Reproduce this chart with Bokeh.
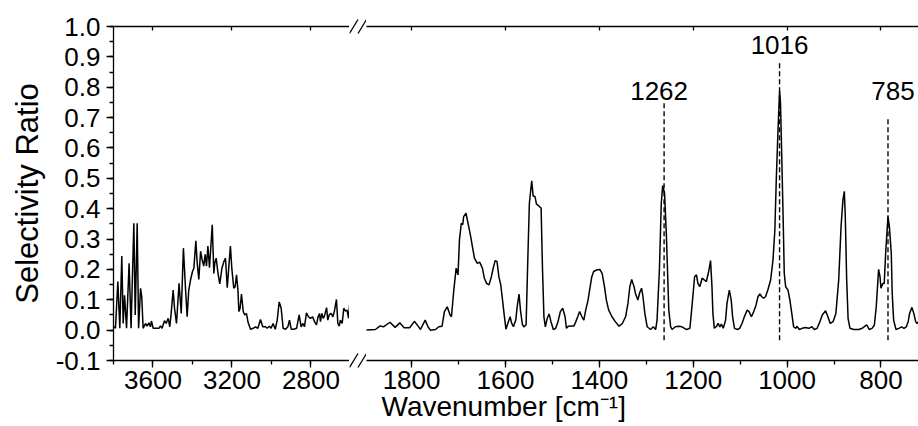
from bokeh.plotting import figure
from bokeh.layouts import row, column
from bokeh.models import (Range1d, LinearAxis, SingleIntervalTicker, NumeralTickFormatter,
                          CustomJSTickFormatter, LabelSet, Title, ColumnDataSource)
from bokeh.core.properties import value
from bokeh.embed import file_html
from bokeh.resources import INLINE

FONT = "Liberation Sans"

# ---------------- data ----------------
# high-wavenumber segment
wn_left = [3798, 3790, 3778, 3768, 3758, 3751, 3744, 3734, 3721, 3711, 3697, 3690, 3680, 3673,
           3663, 3657, 3650, 3638, 3630, 3621, 3613, 3608, 3599, 3587, 3570, 3562, 3554, 3542,
           3533, 3523, 3515, 3508, 3498, 3491, 3481, 3468, 3457, 3446, 3435, 3427, 3419, 3410,
           3400, 3393, 3383, 3376, 3368, 3359, 3351, 3343, 3336, 3329, 3322, 3314, 3307, 3300,
           3292, 3287, 3280, 3272, 3262, 3251, 3241, 3233, 3224, 3216, 3208, 3201, 3191, 3184,
           3177, 3170, 3165, 3159, 3152, 3143, 3135, 3127, 3118, 3106, 3093, 3081, 3069, 3056,
           3044, 3030, 3022, 3010, 3002, 2992, 2981, 2971, 2961, 2951, 2941, 2929, 2917, 2909,
           2900, 2887, 2873, 2860, 2850, 2841, 2833, 2823, 2813, 2803, 2792, 2782, 2772, 2765,
           2757, 2752, 2745, 2738, 2732, 2721, 2715, 2708, 2698, 2689, 2681, 2671, 2664, 2657,
           2651, 2642, 2634, 2625, 2617, 2610, 2603]
sr_left = [0.011, 0.006, 0.160, 0.006, 0.244, 0.022, 0.115, 0.006, 0.220, 0.006, 0.352, 0.050, 0.352, 0.006,
           0.138, 0.110, 0.006, 0.022, 0.013, 0.024, 0.011, 0.030, 0.006, 0.006, 0.006, 0.014, 0.006, 0.031,
           0.022, 0.039, 0.011, 0.055, 0.132, 0.072, 0.022, 0.154, 0.055, 0.270, 0.132, 0.044, 0.132, 0.165,
           0.193, 0.204, 0.294, 0.220, 0.167, 0.260, 0.231, 0.211, 0.250, 0.211, 0.277, 0.206, 0.275, 0.347,
           0.187, 0.222, 0.237, 0.193, 0.152, 0.204, 0.226, 0.237, 0.140, 0.209, 0.277, 0.204, 0.138, 0.143,
           0.182, 0.132, 0.061, 0.072, 0.119, 0.061, 0.050, 0.055, 0.024, 0.003, 0.006, 0.011, 0.006, 0.035,
           0.011, 0.011, 0.006, 0.013, 0.006, 0.022, 0.003, 0.033, 0.093, 0.072, 0.006, 0.003, 0.011, 0.033,
           0.003, 0.003, 0.006, 0.050, 0.011, 0.022, 0.011, 0.057, 0.044, 0.039, 0.044, 0.028, 0.017, 0.042,
           0.055, 0.028, 0.055, 0.039, 0.046, 0.074, 0.033, 0.050, 0.055, 0.044, 0.064, 0.101, 0.022, 0.013,
           0.033, 0.022, 0.072, 0.063, 0.066, 0.039, 0.094]

# fingerprint segment
wn_right = [1898, 1877, 1867, 1860, 1846, 1835, 1825, 1816, 1804, 1794, 1784, 1781, 1771, 1765, 1760,
            1749, 1742, 1735, 1730, 1724, 1718, 1715, 1710, 1705, 1701, 1698, 1694, 1691, 1689, 1684,
            1679, 1674, 1671, 1666, 1660, 1655, 1649, 1645, 1640, 1635, 1630, 1626, 1622, 1618, 1614,
            1610, 1607, 1603, 1599, 1595, 1590, 1587, 1583, 1578, 1575, 1571, 1568, 1564, 1561, 1556,
            1552, 1549, 1544, 1541, 1537, 1534, 1529, 1524, 1521, 1518, 1515, 1511, 1507, 1503, 1498,
            1493, 1488, 1483, 1478, 1473, 1470, 1466, 1460, 1454, 1450, 1446, 1442, 1437, 1433, 1429,
            1424, 1420, 1416, 1412, 1406, 1399, 1394, 1389, 1385, 1380, 1373, 1366, 1358, 1351, 1344,
            1339, 1335, 1331, 1326, 1323, 1318, 1314, 1310, 1307, 1303, 1298, 1291, 1285, 1280, 1277,
            1272, 1268, 1265, 1261, 1257, 1252, 1248, 1245, 1238, 1231, 1224, 1214, 1207, 1202, 1197,
            1193, 1190, 1186, 1181, 1176, 1172, 1167, 1163, 1160, 1158, 1155, 1150, 1147, 1143, 1140,
            1136, 1131, 1128, 1123, 1119, 1116, 1112, 1106, 1101, 1096, 1091, 1085, 1081, 1076, 1071,
            1066, 1062, 1058, 1054, 1050, 1046, 1041, 1035, 1030, 1026, 1023, 1019, 1016, 1014, 1011,
            1008, 1006, 1003, 998, 994, 990, 986, 981, 979, 974, 968, 961, 954, 947, 942,
            936, 930, 925, 918, 913, 908, 902, 896, 890, 885, 881, 878, 876, 873, 870,
            866, 858, 847, 840, 834, 830, 825, 819, 814, 810, 805, 802, 800, 796, 793,
            790, 785, 782, 778, 776, 773, 768, 762, 756, 751, 746, 742, 739, 734, 730,
            726, 723, 720]
sr_right = [0.000, 0.002, 0.014, 0.011, 0.026, 0.009, 0.024, 0.008, 0.008, 0.029, 0.009, 0.002, 0.033, 0.011, 0.000,
            0.002, 0.011, 0.013, 0.061, 0.077, 0.050, 0.044, 0.132, 0.204, 0.182, 0.297, 0.352, 0.347, 0.374, 0.385,
            0.347, 0.308, 0.281, 0.237, 0.220, 0.224, 0.204, 0.171, 0.154, 0.149, 0.176, 0.204, 0.229, 0.226, 0.176,
            0.149, 0.110, 0.055, 0.003, 0.022, 0.044, 0.024, 0.011, 0.033, 0.077, 0.119, 0.066, 0.020, 0.011, 0.017,
            0.253, 0.418, 0.492, 0.442, 0.440, 0.416, 0.409, 0.402, 0.198, 0.044, 0.011, 0.039, 0.053, 0.028, 0.002,
            0.006, 0.028, 0.061, 0.072, 0.044, 0.006, 0.013, 0.014, 0.014, 0.028, 0.044, 0.061, 0.044, 0.033, 0.066,
            0.099, 0.138, 0.176, 0.193, 0.198, 0.200, 0.187, 0.143, 0.099, 0.066, 0.044, 0.028, 0.013, 0.022, 0.044,
            0.088, 0.143, 0.167, 0.143, 0.121, 0.099, 0.123, 0.138, 0.110, 0.055, 0.011, 0.002, 0.011, 0.002, 0.033,
            0.198, 0.418, 0.476, 0.451, 0.308, 0.066, 0.011, 0.002, 0.011, 0.013, 0.011, 0.002, 0.006, 0.088, 0.176,
            0.182, 0.154, 0.143, 0.171, 0.165, 0.160, 0.193, 0.229, 0.143, 0.055, 0.006, 0.013, 0.022, 0.011, 0.020,
            0.006, 0.033, 0.088, 0.132, 0.099, 0.044, 0.006, 0.002, 0.006, 0.022, 0.044, 0.066, 0.061, 0.044, 0.061,
            0.083, 0.110, 0.119, 0.110, 0.105, 0.110, 0.132, 0.165, 0.231, 0.330, 0.495, 0.671, 0.787, 0.748, 0.550,
            0.341, 0.187, 0.143, 0.132, 0.099, 0.055, 0.011, 0.006, 0.013, 0.002, 0.006, 0.009, 0.006, 0.011, 0.002,
            0.006, 0.028, 0.050, 0.064, 0.044, 0.022, 0.028, 0.055, 0.165, 0.341, 0.429, 0.457, 0.374, 0.165, 0.038,
            0.006, 0.002, 0.002, 0.006, 0.013, 0.017, 0.002, 0.006, 0.017, 0.077, 0.200, 0.176, 0.138, 0.154, 0.154,
            0.253, 0.374, 0.341, 0.253, 0.121, 0.033, 0.002, 0.006, 0.011, 0.006, 0.011, 0.028, 0.055, 0.075, 0.055,
            0.028, 0.022, 0.028]

# marked bands
peak_wn = [1262, 1016, 785]
peak_labels = ["1262", "1016", "785"]
peak_line_top = [0.749, 0.881, 0.703]
peak_label_y = [0.758, 0.910, 0.758]
peak_line_bottom = -0.033

# axes extents
y_min, y_max = -0.1, 1.0
left_range = (3800, 2605)
right_range = (1896, 720)

# ---------------- layout constants ----------------
H = 426
TOP = 26
BOTTOM = 66
FRAME_H = H - TOP - BOTTOM
LEFT_BORDER = 113
FRAME_W_LEFT = 236
GAP_W = 17
FRAME_W_RIGHT = 552

LW = 1.3
TICK_FONT = "26px"
TITLE_FONT = "28px"
YTITLE_FONT = "31px"
label_dx = [-5, 0, 5]   # small horizontal nudges of the band labels (px)


def style_axis(ax):
    ax.axis_line_color = "black"
    ax.axis_line_width = LW
    ax.major_tick_line_color = "black"
    ax.minor_tick_line_color = "black"
    ax.major_tick_line_width = LW
    ax.minor_tick_line_width = LW
    ax.major_tick_out = 7
    ax.major_tick_in = 0
    ax.minor_tick_out = 4
    ax.minor_tick_in = 0
    ax.major_label_text_font = FONT
    ax.major_label_text_font_size = TICK_FONT
    ax.major_label_text_color = "black"
    ax.major_label_standoff = 3


def top_axis(ticker):
    ax = LinearAxis(ticker=ticker, formatter=CustomJSTickFormatter(code="return ''"))
    ax.axis_line_color = "black"
    ax.axis_line_width = LW
    ax.major_tick_out = 0
    ax.major_tick_in = 4
    ax.minor_tick_out = 0
    ax.minor_tick_in = 0
    ax.major_tick_line_width = LW
    ax.major_label_text_font_size = "0px"
    ax.major_label_standoff = 0
    return ax


def clean(p):
    p.grid.visible = False
    p.outline_line_color = None
    p.background_fill_color = "white"
    p.border_fill_color = "white"


# ---------------- left panel ----------------
pL = figure(width=LEFT_BORDER + FRAME_W_LEFT, height=H,
            x_range=Range1d(*left_range), y_range=Range1d(y_min, y_max),
            output_backend="svg", toolbar_location=None,
            min_border_left=LEFT_BORDER, min_border_right=0,
            min_border_top=TOP, min_border_bottom=BOTTOM)
pL.line(wn_left, sr_left, line_color="black", line_width=1.5)
clean(pL)

xl = pL.xaxis[0]
xl.ticker = SingleIntervalTicker(interval=400, num_minor_ticks=2)
style_axis(xl)
yl = pL.yaxis[0]
yl.ticker = SingleIntervalTicker(interval=0.1, num_minor_ticks=2)
yl.formatter = NumeralTickFormatter(format="0.0")
style_axis(yl)
yl.major_label_standoff = 6
yl.axis_label = "Selectivity Ratio"
yl.axis_label_text_font = FONT
yl.axis_label_text_font_size = YTITLE_FONT
yl.axis_label_text_font_style = "normal"
yl.axis_label_text_color = "black"
yl.axis_label_standoff = 8
pL.add_layout(top_axis(SingleIntervalTicker(interval=400, num_minor_ticks=2)), "above")

# ---------------- axis-break strip (the two slashes) ----------------
px_per_y = FRAME_H / (y_max - y_min)
strip_y = Range1d(y_min - BOTTOM / px_per_y, y_max + TOP / px_per_y)
pB = figure(width=GAP_W, height=H, x_range=Range1d(0, GAP_W), y_range=strip_y,
            output_backend="svg", toolbar_location=None,
            x_axis_location=None, y_axis_location=None,
            min_border_left=0, min_border_right=0, min_border_top=0, min_border_bottom=0)
clean(pB)
half_h = 7.0 / px_per_y
slash_x0 = [0.0, 8.5]
slash_x1 = [8.5, 17.0]
for yc in (y_min, y_max):
    pB.segment(x0=slash_x0, y0=[yc - half_h] * 2, x1=slash_x1, y1=[yc + half_h] * 2,
               line_color="black", line_width=LW)

# ---------------- right panel ----------------
pR = figure(width=FRAME_W_RIGHT, height=H,
            x_range=Range1d(*right_range), y_range=Range1d(y_min, y_max),
            output_backend="svg", toolbar_location=None, y_axis_location=None,
            min_border_left=0, min_border_right=0, min_border_top=TOP, min_border_bottom=BOTTOM)
pR.line(wn_right, sr_right, line_color="black", line_width=1.5)
clean(pR)

xr = pR.xaxis[0]
xr.ticker = SingleIntervalTicker(interval=200, num_minor_ticks=2)
style_axis(xr)
pR.add_layout(top_axis(SingleIntervalTicker(interval=200, num_minor_ticks=2)), "above")

# peak markers
pR.segment(x0=peak_wn, y0=[peak_line_bottom] * len(peak_wn), x1=peak_wn, y1=peak_line_top,
           line_color="black", line_width=1.4, line_dash="5 3")
peak_src = ColumnDataSource(dict(x=peak_wn, y=peak_label_y, text=peak_labels, dx=label_dx))
pR.add_layout(LabelSet(x="x", y="y", text="text", x_offset="dx", source=peak_src,
                       text_align="center", text_baseline="alphabetic", text_font=value(FONT),
                       text_font_size=value(TICK_FONT), text_color="black"))

# x-axis title (spans both panels, placed under the fingerprint axis)
pR.add_layout(Title(text="Wavenumber [cm\u207b\u00b9]", align="left", offset=15,
                    vertical_align="top", standoff=-2, text_font=FONT,
                    text_font_size=TITLE_FONT, text_font_style="normal",
                    text_color="black"), "below")

layout = row(pL, column(pB), pR)
open("out.html", "w").write(file_html(layout, INLINE))
